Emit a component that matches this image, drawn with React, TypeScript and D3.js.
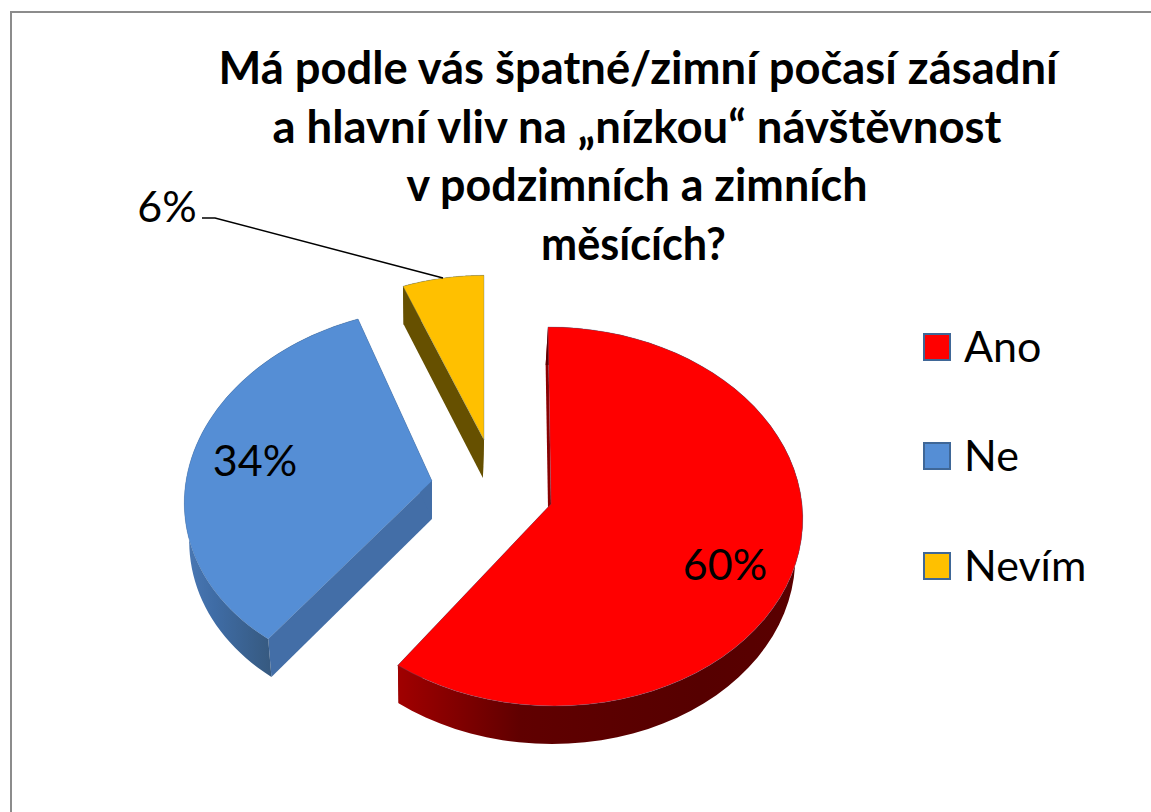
import React from "react";
import * as d3 from "d3";

const titleLines = [
  "Má podle vás špatné/zimní počasí zásadní",
  "a hlavní vliv na „nízkou“ návštěvnost",
  "v podzimních a zimních",
  "měsících?",
];
const titleWidths = [839, 729, 461, 185];
const titleCenters = [638, 637, 637, 633.5];
const categories = ["Ano", "Ne", "Nevím"];
const values = [60, 34, 6];
const pctLabels = ["60%", "34%", "6%"];
const topColors = ["#ff0000", "#558ed5", "#ffc000"];
const wallColors = ["#8a0000", "#436ea7", "#665000"];
const rimStops = [
  ["#a00000", "#600000", "#560000", "#5a0000"],
  ["#4a78b4", "#3f6ca5", "#36597f", "#36597f"],
  ["#665000", "#665000", "#665000", "#665000"],
];

const apexX = [551, 432, 484];
const apexY = [504, 481, 440];
const sliceScale = [1, 0.98, 0.93];
const sliceShear = [0.017, -0.07, 0];
const RX = 251;
const RY = 188.7;
const K = 0.0659;
const DEPTH = 38;
const VANISH_X = 430;
const VANISH_F = 0.02;

const pieGen = d3.pie<number>().sort(null).startAngle(0).endAngle(2 * Math.PI);
const arcs = pieGen(values);

function project(i: number, a: number, r = 1, down = 0): [number, number] {
  const u = Math.sin(a) * r;
  const v = Math.cos(a) * r;
  const w = 1 + K * v;
  const s = sliceScale[i];
  const dx = (s * RX * u) / w;
  const dy = (-s * RY * v) / w;
  const x = apexX[i] + dx + sliceShear[i] * dy;
  const shift = down > 0 ? -(x - VANISH_X) * VANISH_F : 0;
  return [x + shift, apexY[i] + dy + down];
}

const line = d3.line();

function arcPts(i: number, a0: number, a1: number, down = 0) {
  const steps = d3.range(0, 61).map((t) => a0 + ((a1 - a0) * t) / 60);
  return steps.map((a) => project(i, a, 1, down));
}

export default function App() {
  const legendY = [348, 457, 567];
  return (
    <svg
      width={1151}
      height={812}
      style={{ position: "absolute", left: 0, top: 0, background: "#fff", fontFamily: "Lato" }}
    >
      <defs>
        {rimStops.map((st, i) => {
          const xs = i === 0 ? [399, 520, 700, 802] : [185, 215, 272, 280];
          return (
            <linearGradient key={i} id={`rim${i}`} gradientUnits="userSpaceOnUse" x1={xs[0]} x2={xs[3]} y1={0} y2={0}>
              {st.map((c, j) => (
                <stop key={j} offset={(xs[j] - xs[0]) / (xs[3] - xs[0])} stopColor={c} />
              ))}
            </linearGradient>
          );
        })}
      </defs>
      <path d="M11,812V12H1151" fill="none" stroke="#8c8c8c" strokeWidth={2} />

      {arcs.map((d, idx) => {
        const i = [2, 1, 0][idx];
        const sl = arcs[i];
        const a0 = sl.startAngle;
        const a1 = sl.endAngle;
        const top = arcPts(i, a0, a1);
        const bottom = arcPts(i, a0, a1, DEPTH);
        const apex = project(i, 0, 0);
        const apexB = project(i, 0, 0, DEPTH);
        const rim = [...top, ...bottom.slice().reverse()];
        const wallA = [apex, apexB, bottom[0], top[0]];
        const wallB = [apex, apexB, bottom[60], top[60]];
        return (
          <g key={i}>
            <path d={line(wallA as [number, number][])!} fill={wallColors[i]} />
            <path d={line(wallB as [number, number][])!} fill={wallColors[i]} />
            <path d={line(rim as [number, number][])!} fill={`url(#rim${i})`} />
            <path
              d={line([apex, ...top] as [number, number][])! + "Z"}
              fill={topColors[i]}
              stroke="#3f6797"
              strokeWidth={0.5}
              strokeOpacity={0.6}
            />
          </g>
        );
      })}

      <path d="M202,218L215,218L443,278" fill="none" stroke="#000" strokeWidth={1.5} />

      <g fontSize={46} fontWeight={700} textAnchor="middle" fill="#000">
        {titleLines.map((t, i) => (
          <text
            key={i}
            x={titleCenters[i]}
            y={84 + i * 58.7}
            textLength={titleWidths[i]}
            lengthAdjust="spacingAndGlyphs"
          >
            {t}
          </text>
        ))}
      </g>

      <g fontSize={43} fill="#000" textAnchor="middle">
        <text x={725} y={580}>{pctLabels[0]}</text>
        <text x={255} y={476}>{pctLabels[1]}</text>
        <text x={167} y={222}>{pctLabels[2]}</text>
      </g>

      {categories.map((c, i) => (
        <g key={c}>
          <rect x={924} y={legendY[i] - 14} width={26} height={26} fill={topColors[i]} stroke="#3f6797" strokeWidth={2} />
          <text x={964} y={legendY[i] + 14} fontSize={43} fill="#000">
            {c}
          </text>
        </g>
      ))}
    </svg>
  );
}
